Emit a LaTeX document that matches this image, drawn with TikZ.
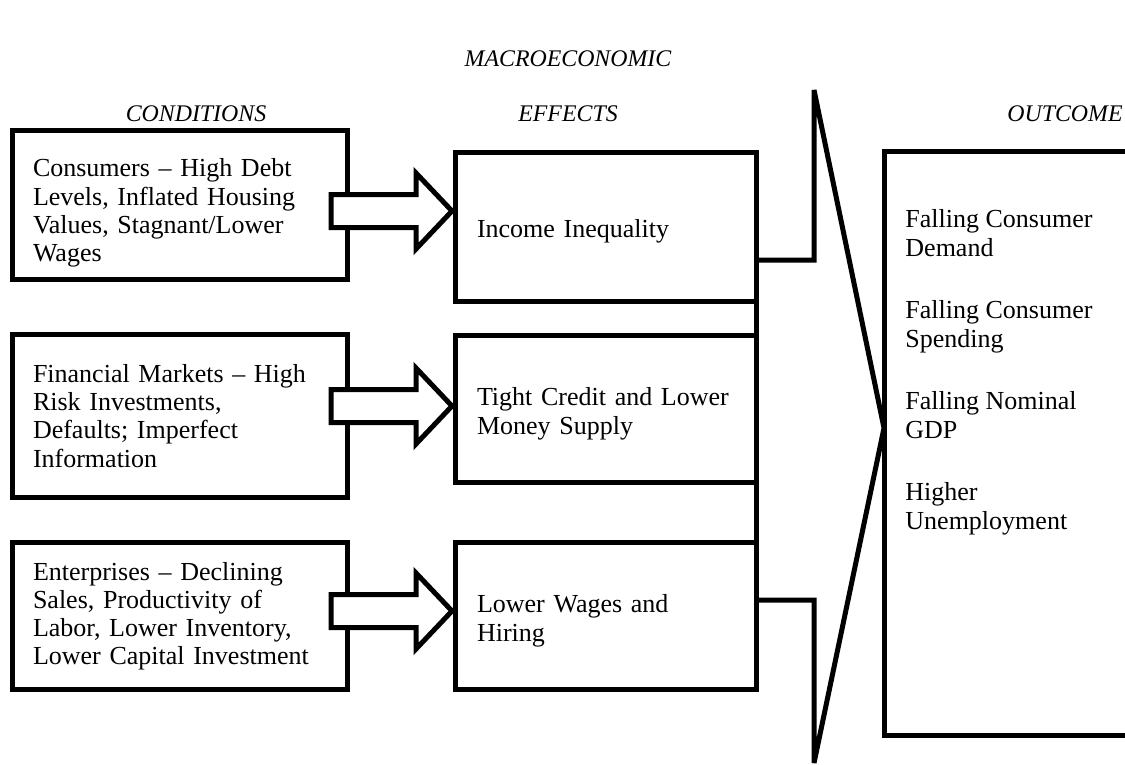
\documentclass[tikz,border=0pt]{standalone}
\usepackage{fontspec}
\setmainfont{Liberation Serif}
\usetikzlibrary{calc}
\newdimen\pix
\pix=0.4615pt

\begin{document}
\begin{tikzpicture}[
  x=0.4615pt, y=-0.4615pt,
  font=\fontsize{12}{13}\selectfont,
  lw/.style={line width=5\pix},
  condbox/.style={
    draw, lw,
    align=left,
    text width=294\pix,
    inner xsep=20.5\pix,
    inner ysep=0pt,
    outer sep=0pt,
    minimum width=335\pix,
  },
  effbox/.style={
    draw, lw,
    align=left,
    text width=257\pix,
    inner xsep=22\pix,
    inner ysep=0pt,
    outer sep=0pt,
    text height=13pt,
    minimum width=301\pix,
    minimum height=147.5\pix,
  },
  colhead/.style={font=\fontsize{11}{13}\selectfont\itshape},
  blockarr/.style={draw, lw, fill=white},
  outtext/.style={
    align=left,
    anchor=north west,
    inner sep=0pt,
    font=\fontsize{12}{13.4}\selectfont,
  },
]
  \useasboundingbox (0,0) rectangle (1125,765);

  \node[colhead] (hMacro) at (568,59) {MACROECONOMIC};
  \node[colhead] (hCond) at (196,114) {CONDITIONS};
  \node[colhead] (hEff) at (568,114) {EFFECTS};
  \node[colhead] (hOut) at (1065,114) {OUTCOME};

  \node[condbox, minimum height=149\pix, text height=15.6pt] (L1) at (180,205) {%
    Consumers -- High Debt\\
    Levels, Inflated Housing\\
    Values, Stagnant/Lower\\
    Wages};
  \node[condbox, minimum height=162.5\pix] (L2) at (180,416) {%
    Financial Markets -- High\\
    Risk Investments,\\
    Defaults; Imperfect\\
    Information};
  \node[condbox, minimum height=147.5\pix] (L3) at (180,616) {%
    Enterprises -- Declining\\
    Sales, Productivity of\\
    Labor, Lower Inventory,\\
    Lower Capital Investment};

  \node[effbox, minimum height=149\pix] (M1) at (605.5,226.5) {Income Inequality};
  \node[effbox] (M2) at (605.5,408.75) {Tight Credit and Lower\\Money Supply};
  \node[effbox] (M3) at (605.5,615.75) {Lower Wages and\\Hiring};

  \foreach \i/\dy in {1/-15.5, 2/-2.75, 3/-4.75}
    \draw[blockarr] ($(M\i.west)+(-3,\dy)$) -- ++(-36,-38) -- ++(0,21.5)
      -- ++(-85,0) -- ++(0,33) -- ++(85,0) -- ++(0,21.5) -- cycle;

  \node[minimum width=244\pix, minimum height=583.5\pix, inner sep=0pt, outer sep=0pt]
    (O) at (1006,443.25) {};
  \draw[lw] (O.north east) -- (O.north west) -- (O.south west) -- (O.south east);
  \node[outtext] (OT) at (905,209) {%
    Falling Consumer\\Demand\\[15.2pt]
    Falling Consumer\\Spending\\[15.2pt]
    Falling Nominal\\GDP\\[15.2pt]
    Higher\\Unemployment};

  \coordinate (ftop) at (814,90);
  \coordinate (fapex) at (884,428);
  \coordinate (fbot) at (814,763);
  \draw[lw] (M1.south east) -- (M3.north east);
  \draw[lw, miter limit=4] ($(M1.south east)+(0,-41)$) -| (ftop) -- (fapex)
    -- (fbot) |- ($(M3.north east)+(0,58)$);
\end{tikzpicture}
\end{document}
